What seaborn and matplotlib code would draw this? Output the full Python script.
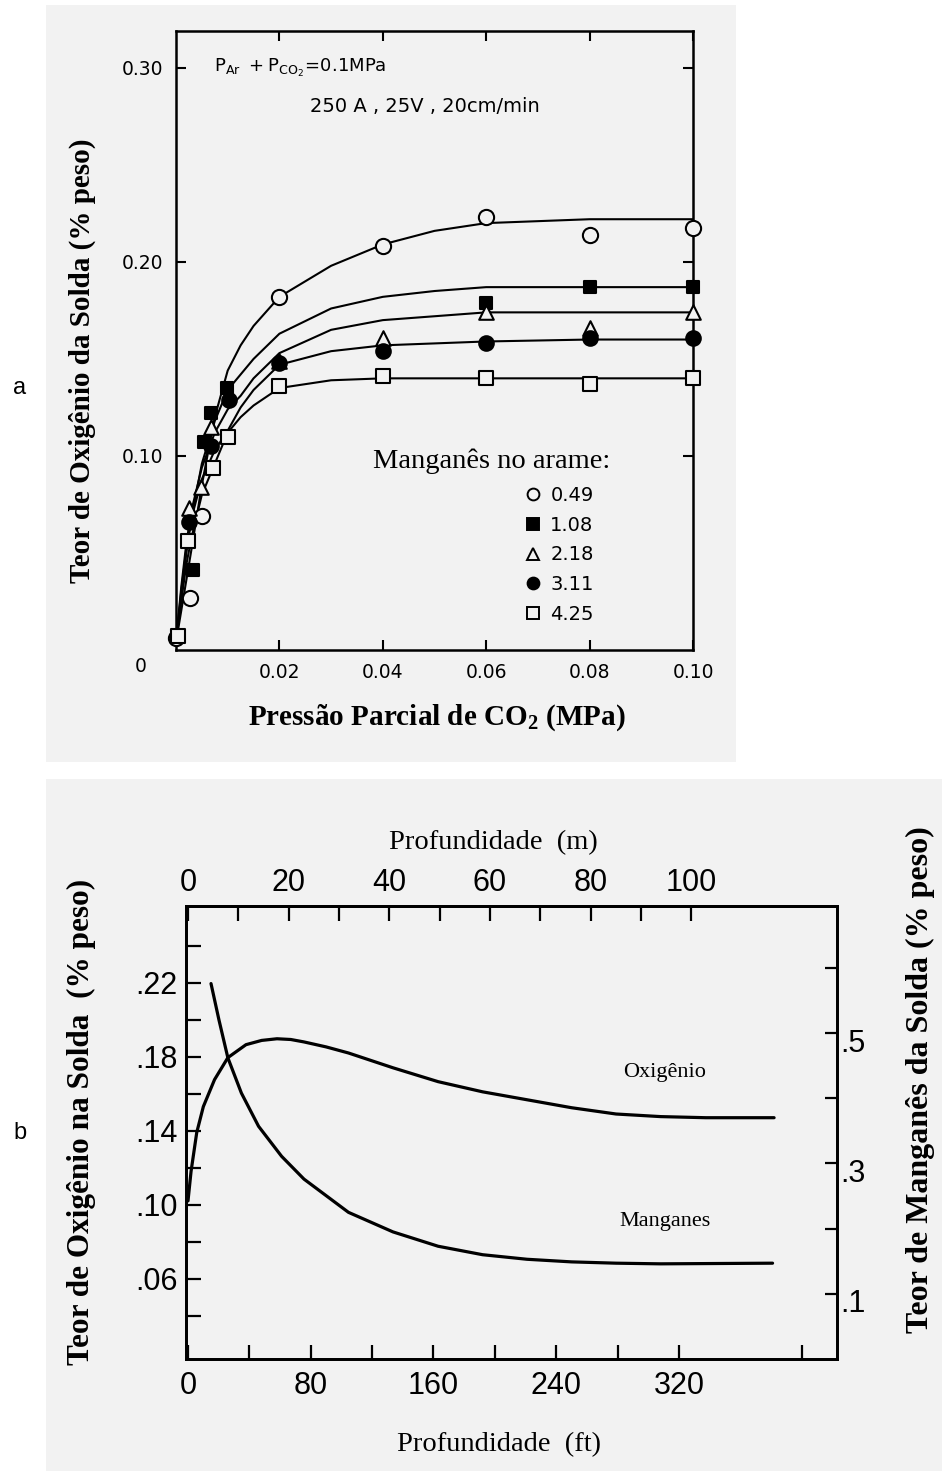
import numpy as np
import pandas as pd
import matplotlib
matplotlib.use("Agg")
import matplotlib.pyplot as plt
import matplotlib.transforms as mtransforms
from matplotlib.lines import Line2D
from matplotlib.patches import Rectangle
import seaborn as sns

# ---------------- Panel a data ----------------
mn_labels = ["0.49", "1.08", "2.18", "3.11", "4.25"]

x_049 = [0.0000, 0.0027, 0.0050, 0.020, 0.040, 0.060, 0.080, 0.100]
y_049 = [0.006, 0.027, 0.069, 0.182, 0.208, 0.223, 0.214, 0.2175]
x_108 = [0.0033, 0.0054, 0.0068, 0.0099, 0.060, 0.080, 0.100]
y_108 = [0.041, 0.107, 0.122, 0.135, 0.179, 0.187, 0.187]
x_218 = [0.0025, 0.0049, 0.0068, 0.020, 0.040, 0.060, 0.080, 0.100]
y_218 = [0.073, 0.084, 0.115, 0.149, 0.161, 0.174, 0.166, 0.174]
x_311 = [0.0025, 0.0068, 0.0103, 0.020, 0.040, 0.060, 0.080, 0.100]
y_311 = [0.066, 0.105, 0.129, 0.148, 0.154, 0.158, 0.161, 0.161]
x_425 = [0.0003, 0.0023, 0.0072, 0.0101, 0.020, 0.040, 0.060, 0.080, 0.100]
y_425 = [0.007, 0.056, 0.094, 0.110, 0.136, 0.141, 0.140, 0.137, 0.140]

# hand-drawn fitted curves
curve_x = [0, 0.001, 0.002, 0.003, 0.005, 0.0075, 0.010, 0.0125, 0.015, 0.020,
           0.030, 0.040, 0.050, 0.060, 0.080, 0.100]
curve_049 = [0.004, 0.020, 0.036, 0.052, 0.085, 0.120, 0.144, 0.157, 0.167, 0.182,
             0.198, 0.209, 0.216, 0.220, 0.222, 0.222]
curve_108 = [0.004, 0.028, 0.050, 0.068, 0.096, 0.118, 0.134, 0.142, 0.150, 0.163,
             0.176, 0.182, 0.185, 0.187, 0.187, 0.187]
curve_218 = [0.004, 0.032, 0.055, 0.072, 0.094, 0.112, 0.124, 0.131, 0.140, 0.153,
             0.165, 0.170, 0.172, 0.174, 0.174, 0.174]
curve_311 = [0.004, 0.030, 0.052, 0.068, 0.088, 0.103, 0.113, 0.125, 0.134, 0.147,
             0.154, 0.157, 0.158, 0.159, 0.160, 0.160]
curve_425 = [0.004, 0.025, 0.044, 0.058, 0.080, 0.096, 0.112, 0.120, 0.126, 0.135,
             0.139, 0.140, 0.140, 0.140, 0.140, 0.140]

a_xticks = [0.02, 0.04, 0.06, 0.08, 0.10]
a_xticklabels = ["0.02", "0.04", "0.06", "0.08", "0.10"]
a_yticks = [0.10, 0.20, 0.30]
a_yticklabels = ["0.10", "0.20", "0.30"]

# ---------------- Panel b data ----------------
depth_ft_oxy = [0, 2, 5.7, 10, 17.3, 26, 37.8, 48, 58, 67, 75.5, 90, 104.6,
                133.6, 163, 192, 221, 250, 279, 308, 337.5, 382]
oxygen = [0.102, 0.118, 0.139, 0.153, 0.1676, 0.1795, 0.1865, 0.1888, 0.1897,
          0.1893, 0.188, 0.1853, 0.182, 0.174, 0.1665, 0.161, 0.1567, 0.1524,
          0.149, 0.1476, 0.147, 0.147]
depth_ft_mn = [15, 20.2, 26, 34.8, 46, 61, 75.6, 104.6, 133.6, 163, 192, 221,
               250, 279, 308, 381]
manganese = [0.576, 0.520, 0.462, 0.408, 0.357, 0.311, 0.276, 0.225, 0.195,
             0.173, 0.160, 0.153, 0.149, 0.147, 0.146, 0.147]

b_ft_ticks = [0, 80, 160, 240, 320]
b_ft_minor = [40, 120, 200, 280, 400]
b_m_ticks = [0, 20, 40, 60, 80, 100]
b_m_minor = [10, 30, 50, 70, 90]
b_oxy_ticks = [0.06, 0.10, 0.14, 0.18, 0.22]
b_oxy_ticklabels = [".06", ".10", ".14", ".18", ".22"]
b_oxy_minor = [0.04, 0.08, 0.12, 0.16, 0.20, 0.24]
b_mn_ticks = [0.1, 0.3, 0.5]
b_mn_ticklabels = [".1", ".3", ".5"]
b_mn_minor = [0.2, 0.4, 0.6]

# ---------------- style ----------------
sns.set_theme(style="ticks")
plt.rcParams["font.family"] = ["DejaVu Sans"]
plt.rcParams["mathtext.default"] = "regular"
plt.rcParams["axes.linewidth"] = 1.8
plt.rcParams["text.color"] = "black"
plt.rcParams["axes.labelcolor"] = "black"
plt.rcParams["xtick.color"] = "black"
plt.rcParams["ytick.color"] = "black"

BG = "#f2f2f2"
W, H = 942, 1471
SERIF = ["Liberation Serif", "DejaVu Serif"]
NARROW = ["Liberation Sans Narrow", "Liberation Sans", "DejaVu Sans"]

fig = plt.figure(figsize=(W / 100, H / 100), dpi=100, facecolor="white")
fig.patches.append(Rectangle((46 / W, 1 - 762 / H), 690 / W, 757 / H,
                             transform=fig.transFigure, facecolor=BG,
                             edgecolor="none", zorder=-10))
fig.patches.append(Rectangle((46 / W, 0), 896 / W, 692 / H,
                             transform=fig.transFigure, facecolor=BG,
                             edgecolor="none", zorder=-10))

# ================= Panel a =================
ax = fig.add_axes([176 / W, 1 - 650 / H, (693 - 176) / W, (650 - 31) / H])
ax.set_facecolor(BG)

curves = [curve_049, curve_108, curve_218, curve_311, curve_425]
for cy in curves:
    sns.lineplot(x=curve_x, y=cy, ax=ax, color="black", lw=1.5,
                 estimator=None, sort=False, legend=False, zorder=2)

series = [(x_049, y_049, "o", BG, 120), (x_108, y_108, "s", "black", 80),
          (x_218, y_218, "^", BG, 110), (x_311, y_311, "o", "black", 110),
          (x_425, y_425, "s", BG, 100)]
for xs, ys, mk, fc, s in series:
    sns.scatterplot(x=xs, y=ys, ax=ax, marker=mk, s=s, color=fc,
                    edgecolor="black", linewidth=1.5, zorder=3,
                    clip_on=False, legend=False)

ax.set_xlim(0, 0.10)
ax.set_ylim(0, 0.319)
ax.set_xticks(a_xticks)
ax.set_xticklabels(a_xticklabels)
ax.set_yticks(a_yticks)
ax.set_yticklabels(a_yticklabels)
ax.tick_params(direction="in", length=7, width=1.5, top=True, right=True,
               labelsize=13.5, pad=9, colors="black")
for sp in ax.spines.values():
    sp.set_color("black")
    sp.set_linewidth(1.8)
ax.text(-0.068, -0.026, "0", transform=ax.transAxes, ha="center",
        va="center", fontsize=13.5)

ax.set_xlabel("Pressão Parcial de CO$_2$ (MPa)", fontsize=21,
              fontweight="bold", family=SERIF)
ax.xaxis.set_label_coords(0.505, -0.11)
ax.xaxis.label.set_va("center")
ax.set_ylabel("Teor de Oxigênio da Solda (% peso)", fontsize=21,
              fontweight="bold", family=SERIF)
ax.yaxis.set_label_coords(-0.182, 0.468)
ax.yaxis.label.set_va("center")

ax.text((214 - 176) / 517, (650 - 68) / 619,
        r"$P_{Ar}\ +P_{CO_2}\!=\!0.1MPa$", transform=ax.transAxes,
        ha="left", va="center", fontsize=13)
ax.text((425 - 176) / 517, (650 - 107) / 619, "250 A , 25V , 20cm/min",
        transform=ax.transAxes, ha="center", va="center", fontsize=14)

ax.text((492 - 176) / 517, (650 - 461) / 619, "Manganês no arame:",
        transform=ax.transAxes, ha="center", va="center", fontsize=20.5,
        family=SERIF)
handles = [Line2D([], [], ls="none", marker=mk, markersize=8.5,
                  markerfacecolor=fc, markeredgecolor="black",
                  markeredgewidth=1.4)
           for _, _, mk, fc, _ in series]
ax.legend(handles, mn_labels, loc="upper left",
          bbox_to_anchor=((524 - 176) / 517, (650 - 486) / 619),
          frameon=False, handlelength=0.9, handletextpad=0.45,
          labelspacing=0.55, borderpad=0, borderaxespad=0,
          prop={"size": 14})

fig.text(20 / W, 1 - 388 / H, "a", ha="center", va="center", fontsize=17,
         family=["Liberation Sans", "DejaVu Sans"])
fig.text(20 / W, 1 - 1133 / H, "b", ha="center", va="center", fontsize=17,
         family=["Liberation Sans", "DejaVu Sans"])

# ================= Panel b =================
axb = fig.add_axes([186 / W, 1 - 1359 / H, (837 - 186) / W, (1359 - 906) / H])
axb.set_facecolor(BG)
sns.lineplot(x=depth_ft_oxy, y=oxygen, ax=axb, color="black", lw=2.3,
             estimator=None, sort=False, legend=False)
axb.set_xlim(-1.3, 423)
axb.set_ylim(0.0165, 0.2615)

axr = axb.twinx()
sns.lineplot(x=depth_ft_mn, y=manganese, ax=axr, color="black", lw=2.3,
             estimator=None, sort=False, legend=False)
axr.set_ylim(0, 0.695)

axb.set_xticks(b_ft_ticks)
axb.set_xticks(b_ft_minor, minor=True)
axb.set_xticklabels([str(v) for v in b_ft_ticks])
axb.set_yticks(b_oxy_ticks)
axb.set_yticks(b_oxy_minor, minor=True)
axb.set_yticklabels(b_oxy_ticklabels)
axb.tick_params(axis="x", which="both", direction="in", length=10, width=1.6,
                top=False, pad=9, labelsize=22, colors="black")
axb.tick_params(axis="y", which="both", direction="in", length=11, width=1.6,
                right=False, pad=6, labelsize=22, colors="black")

axr.set_yticks(b_mn_ticks)
axr.set_yticks(b_mn_minor, minor=True)
axr.set_yticklabels(b_mn_ticklabels)
axr.tick_params(axis="y", which="both", direction="in", length=9, width=1.6,
                pad=2, labelsize=22, colors="black")

secx = axb.secondary_xaxis("top", functions=(lambda f: f / 3.2808,
                                              lambda m: m * 3.2808))
secx.set_xticks(b_m_ticks)
secx.set_xticks(b_m_minor, minor=True)
secx.set_xticklabels([str(v) for v in b_m_ticks])
secx.tick_params(which="both", direction="in", length=11, width=1.6, pad=6,
                 labelsize=22, colors="black")

for a_ in (axb, axr):
    for sp in a_.spines.values():
        sp.set_color("black")
        sp.set_linewidth(2.0)
for sp in secx.spines.values():
    sp.set_linewidth(2.0)

for lab in (axb.get_xticklabels() + axb.get_yticklabels() +
            axr.get_yticklabels() + secx.get_xticklabels()):
    lab.set_family(NARROW)
off = mtransforms.ScaledTranslation(0, -5 / 72, fig.dpi_scale_trans)
for lab in axr.get_yticklabels():
    lab.set_transform(lab.get_transform() + off)

axb.set_xlabel("Profundidade  (ft)", fontsize=20.5, family=SERIF)
axb.xaxis.set_label_coords(0.481, -0.19)
axb.xaxis.label.set_va("center")
axb.text(0.4716, 1.141, "Profundidade  (m)", transform=axb.transAxes,
         ha="center", va="center", fontsize=20.5, family=SERIF)
axb.set_ylabel("Teor de Oxigênio na Solda  (% peso)", fontsize=22.5,
               fontweight="bold", family=SERIF)
axb.yaxis.set_label_coords(-0.16, 0.523)
axb.yaxis.label.set_va("center")
axr.set_ylabel("Teor de Manganês da Solda (% peso)", fontsize=23,
               fontweight="bold", family=SERIF)
axr.yaxis.set_label_coords(1.1275, 0.616)
axr.yaxis.label.set_va("center")

axb.text(310.7, 0.1714, "Oxigênio", ha="center", va="center", fontsize=16,
         family=SERIF)
axb.text(310.7, 0.0908, "Manganes", ha="center", va="center", fontsize=16,
         family=SERIF)

fig.savefig("out.png", dpi=100, facecolor="white")
